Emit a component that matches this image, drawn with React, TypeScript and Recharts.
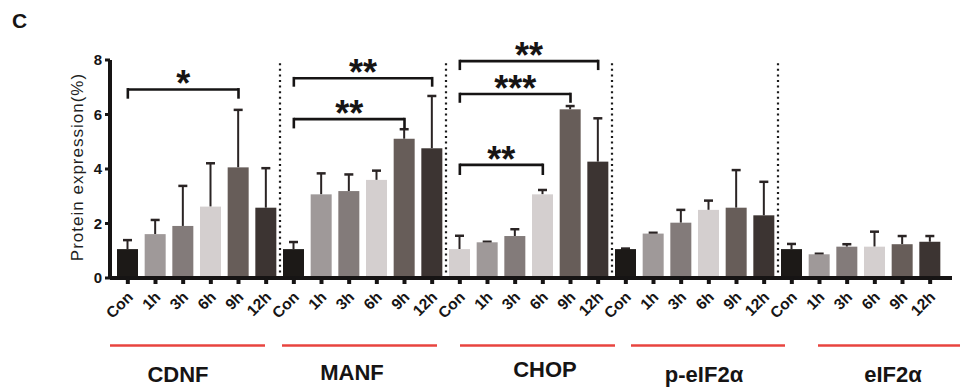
import React from 'react';
import { BarChart, Bar, XAxis, YAxis, ReferenceLine } from 'recharts';

const groups = ['CDNF', 'MANF', 'CHOP', 'p-eIF2α', 'eIF2α'];
const times = ['Con', '1h', '3h', '6h', '9h', '12h'];
const yTicks = [0, 2, 4, 6, 8];

const cdnfMean = [1.06, 1.61, 1.91, 2.62, 4.06, 2.58];
const cdnfErr = [0.33, 0.52, 1.47, 1.59, 2.11, 1.45];
const manfMean = [1.06, 3.07, 3.19, 3.6, 5.11, 4.76];
const manfErr = [0.26, 0.77, 0.61, 0.34, 0.35, 1.92];
const chopMean = [1.06, 1.31, 1.54, 3.07, 6.19, 4.27];
const chopErr = [0.49, 0.02, 0.25, 0.16, 0.12, 1.59];
const peifMean = [1.06, 1.63, 2.03, 2.5, 2.58, 2.3];
const peifErr = [0.02, 0.03, 0.47, 0.34, 1.38, 1.23];
const eifMean = [1.06, 0.87, 1.15, 1.15, 1.24, 1.33];
const eifErr = [0.19, 0.02, 0.09, 0.55, 0.3, 0.21];

const timeColors = ['#1c1917', '#9f9999', '#837b7a', '#d4cfcf', '#675d59', '#3c3432'];
const chopConColor = '#d4cfcf';

const brackets = [
  { group: 'CDNF', from: 'Con', to: '9h', y: 6.92, drop: 0.34, stars: '*' },
  { group: 'MANF', from: 'Con', to: '12h', y: 7.33, drop: 0.31, stars: '**' },
  { group: 'MANF', from: 'Con', to: '9h', y: 5.83, drop: 0.34, stars: '**' },
  { group: 'CHOP', from: 'Con', to: '12h', y: 7.96, drop: 0.33, stars: '**' },
  { group: 'CHOP', from: 'Con', to: '9h', y: 6.75, drop: 0.32, stars: '***' },
  { group: 'CHOP', from: 'Con', to: '6h', y: 4.15, drop: 0.37, stars: '**' },
];

const means = [cdnfMean, manfMean, chopMean, peifMean, eifMean];
const errs = [cdnfErr, manfErr, chopErr, peifErr, eifErr];

const data = groups.flatMap((g, gi) =>
  times.map((t, ti) => ({
    key: `${g}|${t}`,
    time: t,
    value: means[gi][ti],
    err: errs[gi][ti],
    fill: gi === 2 && ti === 0 ? chopConColor : timeColors[ti],
  }))
);

const FONT = '"Liberation Sans", Arial, Helvetica, sans-serif';
const INK = '#161414';

const BarWithErr = (props: any) => {
  const { x, y, width, height, payload } = props;
  if (!payload || height <= 0) return null;
  const perUnit = height / payload.value;
  const ey = y - payload.err * perUnit;
  const cx = x + width / 2;
  return (
    <g>
      <line x1={cx} x2={cx} y1={y} y2={ey} stroke="#2a2424" strokeWidth={2} />
      <line x1={cx - 4.5} x2={cx + 4.5} y1={ey} y2={ey} stroke="#2a2424" strokeWidth={2.5} />
      <rect x={x} y={y} width={width} height={height} fill={payload.fill} />
    </g>
  );
};

const XTick = (props: any) => {
  const { x, y, payload } = props;
  const label = String(payload.value).split('|')[1];
  return (
    <g transform={`translate(${x + 6},${y + 12})`}>
      <text transform="rotate(-45)" textAnchor="end" fontFamily={FONT} fontWeight="bold" fontSize={15.5} fill={INK}>
        {label}
      </text>
    </g>
  );
};

const StarLabel = (stars: string) => (props: any) => {
  const vb = props.viewBox || {};
  const cx = vb.x + (vb.width || 0) / 2;
  return (
    <text x={cx} y={vb.y + 7} textAnchor="middle" fontFamily={FONT} fontWeight="bold" fontSize={36} fill={INK}>
      {stars}
    </text>
  );
};

const groupLabels = [
  { text: 'CDNF', x: 178, y: 382, x1: 110, x2: 265 },
  { text: 'MANF', x: 352, y: 380, x1: 282, x2: 437 },
  { text: 'CHOP', x: 545, y: 377, x1: 460, x2: 615 },
  { text: 'p-eIF2α', x: 704, y: 382, x1: 631, x2: 785 },
  { text: 'eIF2α', x: 893, y: 382, x1: 818, x2: 960 },
];

export default function App() {
  return (
    <div style={{ position: 'relative', width: 960, height: 387, background: '#fff', overflow: 'hidden' }}>
      <style>{`body{margin:0;background:#fff}`}</style>
      <BarChart
        width={960}
        height={387}
        data={data}
        margin={{ top: 60, right: 8, bottom: 69, left: 60 }}
        barSize={21}
      >
        <XAxis
          dataKey="key"
          interval={0}
          padding={{ left: 4, right: 8 }}
          axisLine={{ stroke: INK, strokeWidth: 4 }}
          tickLine={{ stroke: INK, strokeWidth: 4 }}
          tickSize={6}
          tick={<XTick />}
          height={40}
        />
        <YAxis
          domain={[0, 8]}
          ticks={yTicks}
          width={50}
          axisLine={{ stroke: INK, strokeWidth: 4 }}
          tickLine={{ stroke: INK, strokeWidth: 3 }}
          tickSize={5}
          tickMargin={3}
          tick={{ fontFamily: FONT, fontWeight: 'bold', fontSize: 15, fill: INK }}
          allowDataOverflow
        />
        {groups.slice(0, 4).map((g) => (
          <ReferenceLine
            key={`sep-${g}`}
            x={`${g}|12h`}
            position="end"
            stroke="#1a1a1a"
            strokeWidth={2.2}
            strokeDasharray="2 3.6"
          />
        ))}
        <Bar dataKey="value" shape={<BarWithErr />} isAnimationActive={false} />
        {brackets.map((b, i) => (
          <ReferenceLine
            key={`bh-${i}`}
            segment={[
              { x: `${b.group}|${b.from}`, y: b.y },
              { x: `${b.group}|${b.to}`, y: b.y },
            ]}
            stroke={INK}
            strokeWidth={2.6}
            ifOverflow="visible"
            label={StarLabel(b.stars)}
          />
        ))}
        {brackets.map((b, i) => (
          <ReferenceLine
            key={`bl-${i}`}
            segment={[
              { x: `${b.group}|${b.from}`, y: b.y + 0.05 },
              { x: `${b.group}|${b.from}`, y: b.y - b.drop },
            ]}
            stroke={INK}
            strokeWidth={2.6}
            ifOverflow="visible"
          />
        ))}
        {brackets.map((b, i) => (
          <ReferenceLine
            key={`br-${i}`}
            segment={[
              { x: `${b.group}|${b.to}`, y: b.y + 0.05 },
              { x: `${b.group}|${b.to}`, y: b.y - b.drop },
            ]}
            stroke={INK}
            strokeWidth={2.6}
            ifOverflow="visible"
          />
        ))}
      </BarChart>
      <svg
        width={960}
        height={387}
        style={{ position: 'absolute', left: 0, top: 0, pointerEvents: 'none' }}
      >
        <text x={12} y={28} fontFamily={FONT} fontWeight="bold" fontSize={21} fill={INK}>
          C
        </text>
        <text
          transform="translate(83,167) rotate(-90)"
          textAnchor="middle"
          fontFamily={FONT}
          fontSize={17}
          letterSpacing={1}
          fill="#231f1f"
        >
          Protein expression(%)
        </text>
        {groupLabels.map((g) => (
          <g key={g.text}>
            <line x1={g.x1} x2={g.x2} y1={345.5} y2={345.5} stroke="#e8443f" strokeWidth={2.6} />
            <text x={g.x} y={g.y} textAnchor="middle" fontFamily={FONT} fontWeight="bold" fontSize={22} fill={INK}>
              {g.text}
            </text>
          </g>
        ))}
      </svg>
    </div>
  );
}
